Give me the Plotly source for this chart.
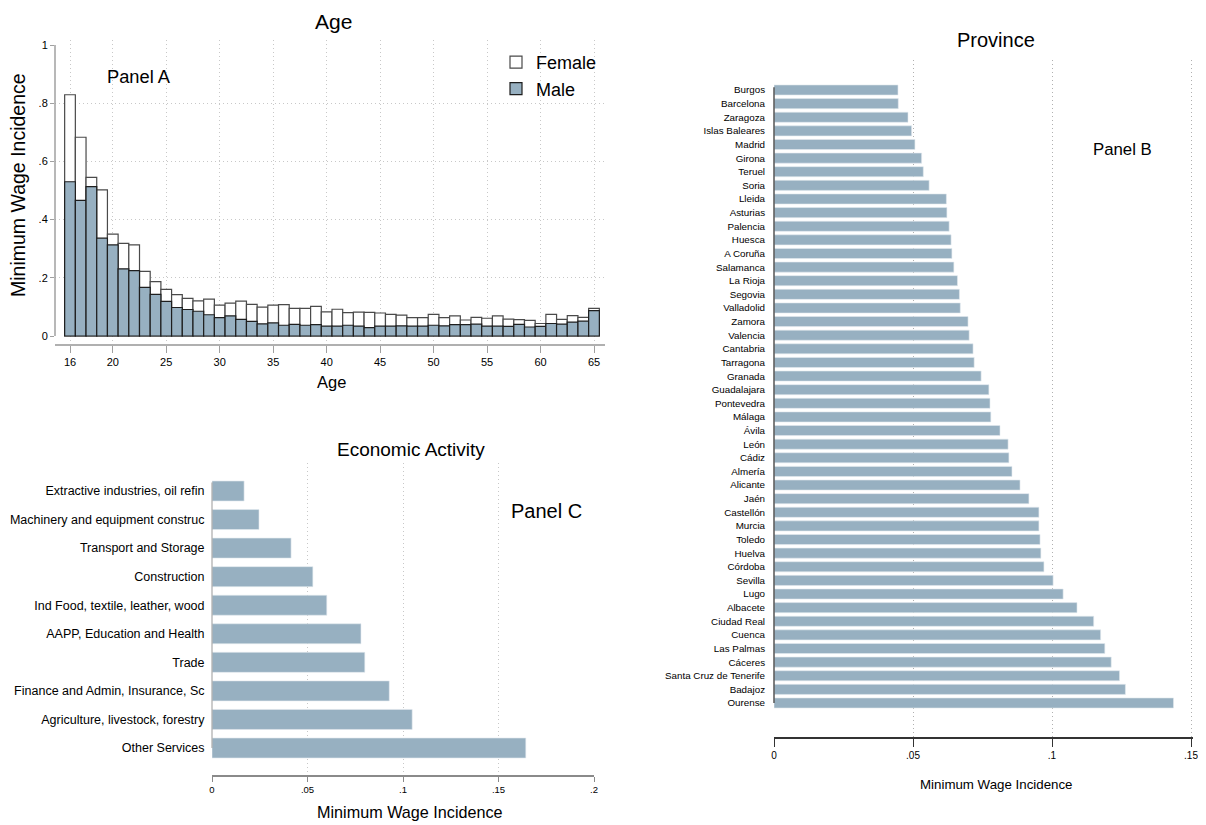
import plotly.graph_objects as go

# ---------------- data ----------------
ages = list(range(16, 66))
female = [0.829, 0.683, 0.545, 0.502, 0.350, 0.318, 0.313, 0.222, 0.187, 0.160,
          0.142, 0.129, 0.121, 0.127, 0.106, 0.113, 0.120, 0.109, 0.099, 0.106,
          0.108, 0.095, 0.095, 0.102, 0.083, 0.092, 0.080, 0.082, 0.081, 0.079,
          0.074, 0.072, 0.063, 0.063, 0.074, 0.063, 0.069, 0.055, 0.064, 0.061,
          0.069, 0.058, 0.056, 0.054, 0.043, 0.074, 0.057, 0.070, 0.064, 0.095]
male = [0.530, 0.466, 0.513, 0.336, 0.313, 0.231, 0.225, 0.167, 0.143, 0.119,
        0.098, 0.091, 0.085, 0.073, 0.063, 0.069, 0.057, 0.050, 0.042, 0.045,
        0.037, 0.040, 0.037, 0.039, 0.034, 0.034, 0.037, 0.034, 0.029, 0.034,
        0.034, 0.035, 0.034, 0.034, 0.037, 0.035, 0.039, 0.039, 0.041, 0.034,
        0.034, 0.033, 0.040, 0.031, 0.033, 0.043, 0.041, 0.048, 0.051, 0.087]
age_ticks = [16, 20, 25, 30, 35, 40, 45, 50, 55, 60, 65]
inc_ticks_a = [0, 0.2, 0.4, 0.6, 0.8, 1]
inc_labels_a = ["0", ".2", ".4", ".6", ".8", "1"]

provinces = ["Burgos", "Barcelona", "Zaragoza", "Islas Baleares", "Madrid", "Girona",
             "Teruel", "Soria", "Lleida", "Asturias", "Palencia", "Huesca", "A Coruña",
             "Salamanca", "La Rioja", "Segovia", "Valladolid", "Zamora", "Valencia",
             "Cantabria", "Tarragona", "Granada", "Guadalajara", "Pontevedra", "Málaga",
             "Ávila", "León", "Cádiz", "Almería", "Alicante", "Jaén", "Castellón",
             "Murcia", "Toledo", "Huelva", "Córdoba", "Sevilla", "Lugo", "Albacete",
             "Ciudad Real", "Cuenca", "Las Palmas", "Cáceres", "Santa Cruz de Tenerife",
             "Badajoz", "Ourense"]
province_vals = [0.0446, 0.0447, 0.0482, 0.0495, 0.0507, 0.0531, 0.0537, 0.0558,
                 0.0620, 0.0622, 0.0630, 0.0637, 0.0640, 0.0647, 0.0660, 0.0667,
                 0.0670, 0.0698, 0.0702, 0.0716, 0.0720, 0.0745, 0.0773, 0.0777,
                 0.0780, 0.0813, 0.0842, 0.0845, 0.0856, 0.0885, 0.0917, 0.0953,
                 0.0953, 0.0957, 0.0960, 0.0971, 0.1004, 0.1040, 0.1090, 0.1150,
                 0.1175, 0.1190, 0.1213, 0.1243, 0.1264, 0.1437]
prov_ticks = [0, 0.05, 0.1, 0.15]
prov_labels = ["0", ".05", ".1", ".15"]

activities = ["Extractive industries, oil refin", "Machinery and equipment construc",
              "Transport and Storage", "Construction", "Ind Food, textile, leather, wood",
              "AAPP, Education and Health", "Trade", "Finance and Admin, Insurance, Sc",
              "Agriculture, livestock, forestry", "Other Services"]
activity_vals = [0.0168, 0.0246, 0.0414, 0.0528, 0.0601, 0.0780, 0.0800, 0.0928, 0.1048, 0.1643]
act_ticks = [0, 0.05, 0.1, 0.15, 0.2]
act_labels = ["0", ".05", ".1", ".15", ".2"]

# ---------------- style ----------------
# The page body has an 8px default margin; the figure is sized to fit the
# 1206x825 window and all layout positions below are given in window pixels.
OFF = 8
W, H = 1206 - OFF, 825 - OFF
FONT = "Liberation Sans, Arial, Helvetica, sans-serif"
BAR = "#97b0c1"
GRID = "#c8c8c8"
DOT = "1px,3px"


def fx(p):
    return (p - OFF) / W


def fy(p):
    return 1 - (p - OFF) / H


fig = go.Figure()

# Panel A
fig.add_trace(go.Bar(x=ages, y=female, width=1, name="Female",
                     marker=dict(color="white", line=dict(color="#4a4a4a", width=1.2)),
                     xaxis="x", yaxis="y"))
fig.add_trace(go.Bar(x=ages, y=male, width=1, name="Male",
                     marker=dict(color=BAR, line=dict(color="#1e1e1e", width=1.2)),
                     xaxis="x", yaxis="y"))
# Panel B
fig.add_trace(go.Bar(y=provinces, x=province_vals, orientation="h", width=0.74,
                     marker=dict(color=BAR, line=dict(color="#e2e9ee", width=0.6)),
                     xaxis="x2", yaxis="y2", showlegend=False))
# Panel C
fig.add_trace(go.Bar(y=activities, x=activity_vals, orientation="h", width=0.7,
                     marker=dict(color=BAR, line=dict(color="#e2e9ee", width=0.6)),
                     xaxis="x3", yaxis="y3", showlegend=False))

# Panel A axes geometry (window pixels)
a_left, a_right = 55, 605
a_age0_px, a_year_px = 70, (594 - 70) / 49
a_top, a_bottom = 40, 344
a_zero_px, a_unit_px = 336, 291
xa_range = [16 - (a_age0_px - a_left) / a_year_px, 16 + (a_right - a_age0_px) / a_year_px]
ya_range = [-(a_bottom - a_zero_px) / a_unit_px, 1 + (a_zero_px - a_unit_px - a_top) / a_unit_px]

# Panel B geometry
b_left, b_right = 774, 1192.5
b_unit = 417 / 0.15
b_top, b_bottom = 60, 736.5
b_first, b_step = 90, (703 - 90) / 45
n_prov = len(provinces)
yb_range = [n_prov - 1 + (b_bottom - (b_first + (n_prov - 1) * b_step)) / b_step,
            -(b_first - b_top) / b_step]

# Panel C geometry
c_left, c_right = 212, 594
c_top, c_bottom = 463, 775
c_first, c_step = 491, (748 - 491) / 9
n_act = len(activities)
yc_range = [n_act - 1 + (c_bottom - (c_first + (n_act - 1) * c_step)) / c_step,
            -(c_first - c_top) / c_step]

fig.update_layout(
    template="none",
    width=W, height=H, margin=dict(l=0, r=0, t=0, b=0, autoexpand=False),
    paper_bgcolor="white", plot_bgcolor="white",
    barmode="overlay",
    font=dict(family=FONT, color="black"),
    legend=dict(x=fx(496), y=fy(44), xanchor="left", yanchor="top",
                font=dict(family=FONT, size=18), bgcolor="rgba(0,0,0,0)",
                itemwidth=30, tracegroupgap=0, borderwidth=0),
    xaxis=dict(domain=[fx(a_left), fx(a_right)], range=xa_range, anchor="y",
               automargin=False,
               tickvals=age_ticks, ticks="outside", ticklen=7, tickcolor="#a0a0a0",
               showline=True, linecolor="#b0b0b0", linewidth=2,
               showgrid=True, gridcolor=GRID, griddash=DOT, gridwidth=1,
               zeroline=False, tickfont=dict(size=11)),
    yaxis=dict(domain=[fy(a_bottom), fy(a_top)], range=ya_range, anchor="x",
               automargin=False,
               tickvals=inc_ticks_a, ticktext=inc_labels_a, ticks="outside", ticklen=4,
               tickcolor="#a0a0a0", showline=False, showgrid=False, zeroline=False,
               minor=dict(tickvals=inc_ticks_a[1:-1], showgrid=True, gridcolor=GRID,
                          griddash=DOT, gridwidth=1, ticks=""),
               tickfont=dict(size=11)),
    xaxis2=dict(domain=[fx(b_left), fx(b_right)], range=[0, (b_right - b_left) / b_unit],
                anchor="y2", automargin=False,
                tickvals=prov_ticks, ticktext=prov_labels, ticks="outside",
                ticklen=9, tickcolor="#333333", tickwidth=1.2,
                showline=True, linecolor="#333333", linewidth=1.5,
                showgrid=True, gridcolor="#b0b0b0", griddash=DOT, gridwidth=1,
                zeroline=False, tickfont=dict(size=10)),
    yaxis2=dict(domain=[fy(b_bottom), fy(b_top)], range=yb_range, anchor="x2",
                automargin=False,
                type="category", categoryorder="array", categoryarray=provinces,
                tickmode="array", tickvals=provinces,
                ticks="outside", ticklen=6, tickcolor="rgba(0,0,0,0)",
                showline=False, showgrid=False, zeroline=False,
                tickfont=dict(size=9.8)),
    xaxis3=dict(domain=[fx(c_left), fx(c_right)], range=[0, 0.2], anchor="y3",
                automargin=False,
                tickvals=act_ticks, ticktext=act_labels, ticks="outside", ticklen=5,
                tickcolor="#8a8a8a", showline=True, linecolor="#8a8a8a", linewidth=1.5,
                showgrid=False, zeroline=False,
                minor=dict(tickvals=act_ticks[:-1], showgrid=True, gridcolor=GRID,
                           griddash=DOT, gridwidth=1, ticks=""),
                tickfont=dict(size=9.5)),
    yaxis3=dict(domain=[fy(c_bottom), fy(c_top)], range=yc_range, anchor="x3",
                automargin=False,
                type="category", categoryorder="array", categoryarray=activities,
                tickmode="array", tickvals=activities,
                ticks="outside", ticklen=4, tickcolor="rgba(0,0,0,0)",
                showline=False, showgrid=False, zeroline=False,
                tickfont=dict(size=12.5)),
)


def yb_frac(idx):
    return (yb_range[0] - idx) / (yb_range[0] - yb_range[1])


def yc_frac(idx):
    return (yc_range[0] - idx) / (yc_range[0] - yc_range[1])


shapes = [
    dict(type="line", xref="x domain", yref="y", x0=0, x1=0, y0=0, y1=1,
         line=dict(color="#a0a0a0", width=1.5)),
    dict(type="line", xref="x2 domain", yref="y2 domain", x0=0, x1=0,
         y0=yb_frac(n_prov - 1), y1=yb_frac(-0.2), line=dict(color="#555555", width=1.5)),
    dict(type="line", xref="x3 domain", yref="y3 domain", x0=0, x1=0,
         y0=yc_frac(n_act - 1), y1=yc_frac(-0.3), line=dict(color="#aaaaaa", width=1.2)),
]
fig.update_layout(shapes=shapes)


def ann(text, xp, yp, size, angle=0):
    return dict(text=text, x=fx(xp), y=fy(yp), xref="paper", yref="paper",
                xanchor="center", yanchor="middle", showarrow=False, textangle=angle,
                font=dict(family=FONT, size=size, color="black"))


fig.update_layout(annotations=[
    ann("Age", 333, 21, 21),
    ann("Age", 332, 382, 16.5),
    ann("Minimum Wage Incidence", 18, 185, 19.5, angle=-90),
    ann("Panel A", 139, 77, 18.3),
    ann("Province", 996, 40, 20),
    ann("Minimum Wage Incidence", 996, 784, 13.3),
    ann("Panel B", 1122, 150, 16.8),
    ann("Economic Activity", 411, 449, 19),
    ann("Minimum Wage Incidence", 410, 812, 16.2),
    ann("Panel C", 546, 511, 20),
])

fig.write_html("out.html")
